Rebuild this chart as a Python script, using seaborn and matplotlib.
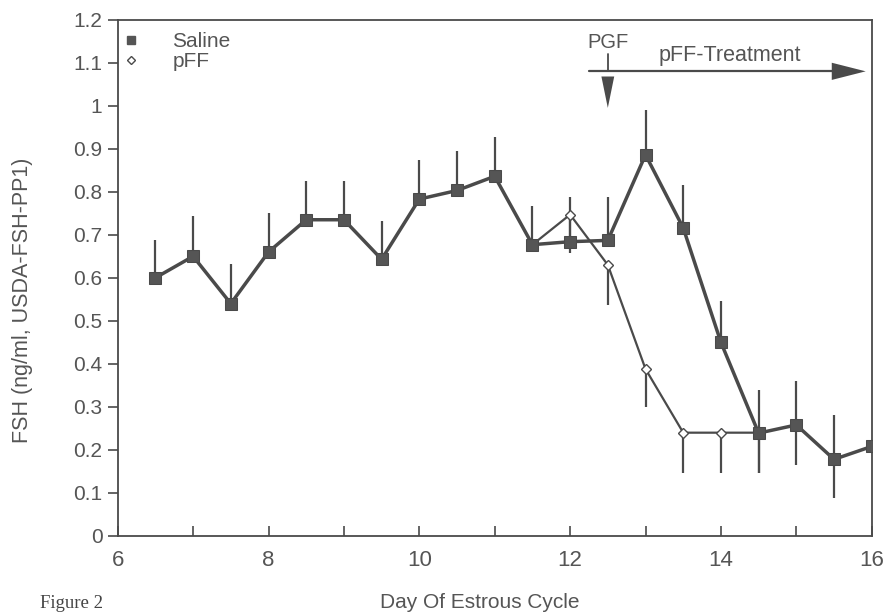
import numpy as np
import pandas as pd
import matplotlib
matplotlib.use('Agg')
import matplotlib.pyplot as plt
import seaborn as sns
from matplotlib.lines import Line2D

# Data
days_saline = [6.5, 7, 7.5, 8, 8.5, 9, 9.5, 10, 10.5, 11, 11.5, 12, 12.5, 13, 13.5, 14, 14.5, 15, 15.5, 16]
fsh_saline = [0.60, 0.65, 0.54, 0.66, 0.735, 0.735, 0.643, 0.783, 0.803, 0.836, 0.677, 0.684, 0.687, 0.886, 0.716, 0.450, 0.239, 0.258, 0.178, 0.208]
err_up_saline = [0.089, 0.093, 0.091, 0.091, 0.089, 0.089, 0.09, 0.09, 0.091, 0.091, 0.09, 0.105, 0.102, 0.103, 0.10, 0.097, 0.101, 0.103, 0.103, 0.0]
err_dn_saline = [0, 0, 0, 0, 0, 0, 0, 0, 0, 0, 0, 0, 0, 0, 0, 0, 0.092, 0.093, 0.09, 0.0]

days_pff = [11.5, 12, 12.5, 13, 13.5, 14, 14.5]
fsh_pff = [0.677, 0.747, 0.630, 0.388, 0.240, 0.240, 0.240]
err_dn_pff = [0.0, 0.09, 0.093, 0.089, 0.094, 0.094, 0.093]

pgf_day = 12.5
treat_start, treat_end = 12.25, 15.92

ink = '#4a4a4a'
txt = '#555555'

sns.set_style('ticks')
plt.rcParams['font.family'] = ['Liberation Sans', 'DejaVu Sans']

fig = plt.figure(figsize=(8.85, 6.16), dpi=100)
ax = fig.add_axes([0.133, 0.130, 0.852, 0.838])

saline = pd.DataFrame({'day': days_saline, 'fsh': fsh_saline,
                       'lo': np.array(fsh_saline) - np.array(err_dn_saline),
                       'hi': np.array(fsh_saline) + np.array(err_up_saline)})
pff = pd.DataFrame({'day': days_pff, 'fsh': fsh_pff,
                    'lo': np.array(fsh_pff) - np.array(err_dn_pff)})

# error bars
ax.vlines(saline['day'], saline['lo'], saline['hi'], color=ink, lw=1.6, zorder=2)
ax.vlines(pff['day'], pff['lo'], pff['fsh'], color=ink, lw=1.6, zorder=2)

# pFF line (thin, open diamonds)
sns.lineplot(data=pff, x='day', y='fsh', ax=ax, color=ink, lw=1.6, marker='D',
             markersize=5, markerfacecolor='white', markeredgecolor=ink,
             markeredgewidth=1.0, zorder=3)
# Saline line (thick, filled squares)
sns.lineplot(data=saline, x='day', y='fsh', ax=ax, color=ink, lw=2.5, marker='s',
             markersize=8, markerfacecolor='#555555', markeredgecolor=ink, zorder=4)

# PGF arrow
ax.text(pgf_day, 1.148, 'PGF', ha='center', va='center', fontsize=14.5, color=txt)
ax.plot([pgf_day, pgf_day], [1.12, 1.08], color=ink, lw=1.3)
ax.fill([pgf_day - 0.085, pgf_day + 0.085, pgf_day], [1.068, 1.068, 0.995],
        color=ink, lw=0, zorder=5)

# pFF-Treatment arrow
ax.plot([treat_start, treat_end - 0.4], [1.08, 1.08], color=ink, lw=1.6)
ax.fill([treat_end - 0.45, treat_end - 0.45, treat_end], [1.1, 1.06, 1.08],
        color=ink, lw=0, zorder=5)
ax.text(14.12, 1.116, 'pFF-Treatment', ha='center', va='center', fontsize=15.5, color=txt)

# legend
handles = [Line2D([], [], ls='none', marker='s', markersize=6, color='#555555'),
           Line2D([], [], ls='none', marker='D', markersize=4, markerfacecolor='white',
                  markeredgecolor=ink)]
leg = ax.legend(handles, ['Saline', 'pFF'], loc='upper left', bbox_to_anchor=(-0.013, 1.0),
                frameon=False, handletextpad=1.5, labelspacing=0.05, fontsize=15,
                handlelength=1.0, borderaxespad=0.2)
for t in leg.get_texts():
    t.set_color(txt)

ax.set_xlim(6, 16)
ax.set_ylim(0, 1.2)
ax.set_xticks(np.arange(6, 17, 1))
ax.set_xticklabels([str(d) if d % 2 == 0 else '' for d in range(6, 17)])
ax.set_yticks(np.round(np.arange(0, 1.21, 0.1), 1))
ax.set_yticklabels(['0', '0.1', '0.2', '0.3', '0.4', '0.5', '0.6', '0.7', '0.8', '0.9', '1', '1.1', '1.2'])
ax.tick_params(axis='x', direction='in', length=7, width=1.2, colors=ink, labelcolor=txt,
               labelsize=16, pad=10)
ax.tick_params(axis='y', direction='out', length=7, width=1.2, colors=ink, labelcolor=txt,
               labelsize=15, pad=4)
for s in ax.spines.values():
    s.set_color(ink)
    s.set_linewidth(1.3)

ax.set_xlabel('')
ax.set_ylabel('FSH (ng/ml, USDA-FSH-PP1)', fontsize=15.5, color=txt)
ax.yaxis.set_label_coords(-0.113, 0.457)

fig.text(0.542, 0.006, 'Day Of Estrous Cycle', ha='center', va='bottom', fontsize=15, color=txt)
fig.text(0.045, 0.006, 'Figure 2', ha='left', va='bottom', fontsize=13.5, color='#444444',
         family=['Liberation Serif', 'DejaVu Serif'])

fig.savefig('out.png', dpi=100, facecolor='white')
